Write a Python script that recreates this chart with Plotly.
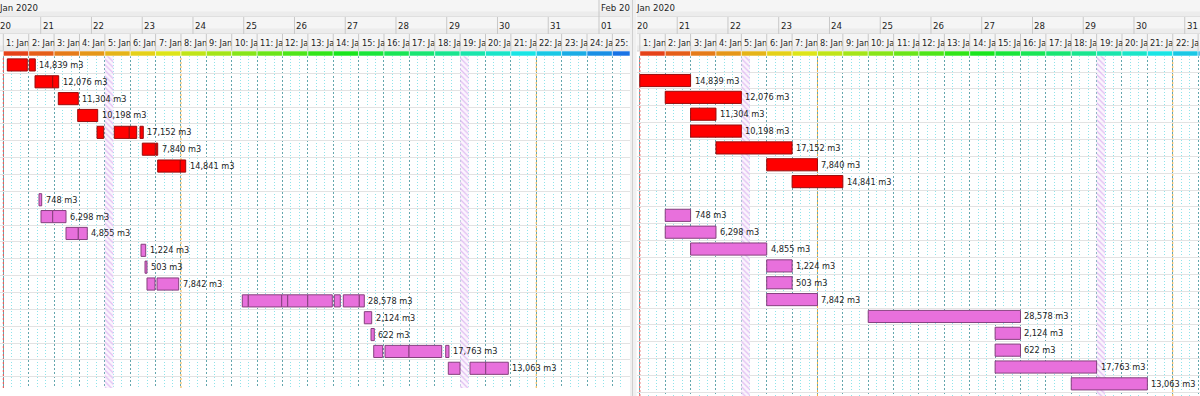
import colorsys
import plotly.graph_objects as go

# ------------------------------------------------------------------ data
volumes = [14839, 12076, 11304, 10198, 17152, 7840, 14841, None,
           748, 6298, 4855, 1224, 503, 7842, 28578, 2124, 622, 17763, 13063]
row_groups = ["red"] * 7 + [None] + ["pink"] * 11

# left panel: actual segments, hours counted from Jan 20 00:00
left_seg_row = [1, 1, 2, 2, 3, 4, 5, 5, 5, 5, 6, 6, 7, 7,
                9, 10, 10, 11, 11, 12, 13, 14, 14,
                15, 15, 15, 15, 15, 15, 15, 15, 16, 17, 18, 18, 18, 18, 19, 19, 19]
left_seg_start = [8.20, 18.61, 21.30, 29.67, 32.32, 41.49, 50.62, 58.80, 65.89, 70.95,
                  72.04, 78.52, 79.32, 90.01,
                  23.19, 24.14, 29.67, 35.96, 41.78, 71.43, 73.32, 74.26, 78.99,
                  119.33, 122.17, 137.96, 140.80, 150.26, 162.83, 167.09, 174.66,
                  177.02, 180.19, 181.47, 186.81, 198.16, 215.51, 216.74, 227.00, 234.43]
left_seg_end = [17.66, 21.44, 29.67, 32.51, 41.78, 50.95, 53.79, 65.89, 69.39, 72.51,
                78.19, 79.32, 90.01, 92.56,
                24.47, 29.67, 35.96, 41.78, 46.03, 73.65, 74.26, 78.05, 89.25,
                122.17, 137.96, 140.80, 150.26, 161.89, 165.67, 174.66, 177.02,
                180.52, 181.75, 185.72, 198.16, 213.62, 217.07, 222.27, 234.43, 245.12]

# right panel: planned shifts (first shift, last shift) per row
right_first_shift = [1, 2, 3, 3, 4, 6, 7, None, 2, 2, 3, 6, 6, 6, 10, 15, 15, 15, 18]
right_last_shift = [2, 4, 3, 4, 6, 7, 8, None, 2, 3, 5, 6, 6, 7, 15, 15, 15, 18, 20]

day_labels = ["20", "21", "22", "23", "24", "25", "26", "27", "28", "29", "30", "31", "01"]
month_labels = ["Jan 2020", "Feb 2020"]
month_start_day = [0, 12]
n_shifts = 25
shift_names = [f"{k}: Jan {20 + int((6.33 + 12 * (k - 1)) // 24)}" for k in range(1, n_shifts + 1)]

SHIFT0 = 6.33        # first shift start (hours)
SHIFT_LEN = 12
now_line = 6.33
week_lines = [90.33, 258.33]
closed_bands = [(54.33, 58.33), (222.33, 226.33)]

# ------------------------------------------------------------------ geometry
W, H = 1200, 396
P = 2.1147           # px per hour
H0 = 4.75            # hour at left edge of left panel
FONT = dict(family="DejaVu Sans", size=8.2, color="#1e1e1e")
HFONT = dict(family="DejaVu Sans", size=8.6, color="#1e1e1e")
RED, RED_LINE = "#ff0000", "#9a0c0c"
PINK, PINK_LINE = "#e870dc", "#86407e"


def xp(px):
    return px / W


def yp(py):
    return 1 - py / H


panels = [
    dict(x="x", y="y", xk="xaxis", yk="yaxis", px0=0, px1=630, h0=H0,
         yr=[20.17, 0.47], ybot=388),
    dict(x="x2", y="y2", xk="xaxis2", yk="yaxis2", px0=637, px1=1200,
         h0=H0 + (637 - 636.5) / P, yr=[19.72, -0.454], ybot=396),
]
for pn in panels:
    pn["h1"] = pn["h0"] + (pn["px1"] - pn["px0"]) / P

fig = go.Figure()
shapes = []
annotations = []

for pi, pn in enumerate(panels):
    xa, ya = pn["x"], pn["y"]
    h0, h1 = pn["h0"], pn["h1"]

    # closed-time hatched bands
    for b0, b1 in closed_bands:
        if b1 > h0 and b0 < h1:
            fig.add_trace(go.Bar(
                orientation="h", y=[10], x=[b1 - b0], base=[b0], width=[40],
                marker=dict(color="rgba(0,0,0,0)", line=dict(width=0),
                            pattern=dict(shape="\\", fgcolor="#e0bcf2", bgcolor="rgba(250,242,253,0.7)",
                                         size=4, solidity=0.3, fillmode="replace")),
                xaxis=xa, yaxis=ya, hoverinfo="skip", showlegend=False))

    # bars
    for grp, col, lcol in (("red", RED, RED_LINE), ("pink", PINK, PINK_LINE)):
        ys, bs, ws = [], [], []
        if pi == 0:
            for r, s, e in zip(left_seg_row, left_seg_start, left_seg_end):
                if row_groups[r - 1] == grp:
                    ys.append(r); bs.append(s); ws.append(e - s)
        else:
            for i, (fs, ls) in enumerate(zip(right_first_shift, right_last_shift)):
                if row_groups[i] == grp and fs is not None:
                    s = SHIFT0 + SHIFT_LEN * (fs - 1)
                    e = SHIFT0 + SHIFT_LEN * ls
                    ys.append(i + 1); bs.append(s); ws.append(e - s)
        fig.add_trace(go.Bar(orientation="h", y=ys, x=ws, base=bs, width=0.72,
                             marker=dict(color=col, line=dict(color=lcol, width=1)),
                             xaxis=xa, yaxis=ya, hoverinfo="skip", showlegend=False))

    # value labels
    for i, v in enumerate(volumes):
        if v is None:
            continue
        r = i + 1
        if pi == 0:
            end = max(e for rr, e in zip(left_seg_row, left_seg_end) if rr == r)
        else:
            end = SHIFT0 + SHIFT_LEN * right_last_shift[i]
        annotations.append(dict(x=end, y=r, xref=xa, yref=ya, text=f"{v:,} m3",
                                xanchor="left", yanchor="middle", xshift=2, showarrow=False,
                                font=FONT))

    # ---------------- header
    x0p, x1p = xp(pn["px0"]), xp(pn["px1"])
    for (ta, tb) in ((0, 17), (17, 34), (34, 51)):
        shapes.append(dict(type="rect", xref="paper", yref="paper", x0=x0p, x1=x1p,
                           y0=yp(tb), y1=yp(ta), fillcolor="#f5f5f5", line=dict(width=0),
                           layer="above"))
        shapes.append(dict(type="rect", xref="paper", yref="paper", x0=x0p, x1=x1p,
                           y0=yp(tb), y1=yp((ta + tb) / 2 + 3), fillcolor="#ececec",
                           line=dict(width=0), layer="above"))
        shapes.append(dict(type="line", xref="paper", yref="paper", x0=x0p, x1=x1p,
                           y0=yp(tb), y1=yp(tb), line=dict(color="#d2d2d2", width=1),
                           layer="above"))

    def vis(a, b):
        return max(a, h0), min(b, h1)

    # month row
    for lab, d in zip(month_labels, month_start_day):
        s, e = 24 * d, 24 * (month_start_day[1] if d == 0 else 20)
        a, b = vis(s, e)
        if b - a <= 0:
            continue
        if s > h0:
            shapes.append(dict(type="line", xref=xa, yref="paper", x0=s, x1=s, y0=yp(17), y1=yp(0),
                               line=dict(color="#c8c8c8", width=1), layer="above"))
        wpx = (b - a) * P - 2
        if wpx >= 4:
            annotations.append(dict(x=a, y=yp(8), xref=xa, yref="paper", text=lab, xanchor="left",
                                    yanchor="middle", align="left", width=wpx, showarrow=False,
                                    xshift=(1 if s > h0 else -2), font=HFONT, borderpad=0))
    # day row
    for d, lab in enumerate(day_labels):
        s, e = 24 * d, 24 * (d + 1)
        a, b = vis(s, e)
        if b - a <= 0:
            continue
        if s > h0:
            shapes.append(dict(type="line", xref=xa, yref="paper", x0=s, x1=s, y0=yp(34), y1=yp(17),
                               line=dict(color="#c8c8c8", width=1), layer="above"))
        wpx = (b - a) * P - 2
        if wpx >= 4:
            annotations.append(dict(x=a, y=yp(25.5), xref=xa, yref="paper", text=lab, xanchor="left",
                                    yanchor="middle", align="left", width=wpx, showarrow=False,
                                    xshift=(1 if s > h0 else -1), font=HFONT, borderpad=0))
    # shift row + colour strip
    for k in range(1, n_shifts + 1):
        s = SHIFT0 + SHIFT_LEN * (k - 1)
        e = s + SHIFT_LEN
        a, b = vis(s, e)
        if b - a <= 0:
            continue
        shapes.append(dict(type="line", xref=xa, yref="paper", x0=s, x1=s, y0=yp(51), y1=yp(34),
                           line=dict(color="#c8c8c8", width=1), layer="above"))
        hue = (12 + (k - 1) * 8.4) / 360
        r, g, bb = colorsys.hls_to_rgb(hue, 0.5, 0.8)
        shapes.append(dict(type="rect", xref=xa, yref="paper", x0=a, x1=b, y0=yp(56), y1=yp(51),
                           fillcolor=f"rgb({int(r*255)},{int(g*255)},{int(bb*255)})",
                           line=dict(color="rgba(255,255,255,0.55)", width=1), layer="above"))
        wpx = (b - a) * P - 3
        if wpx >= 4:
            annotations.append(dict(x=a, y=yp(43), xref=xa, yref="paper", text=shift_names[k - 1],
                                    xanchor="left", yanchor="middle", align="left", width=wpx,
                                    showarrow=False, xshift=2, font=FONT, borderpad=0))

    # plot-area marker lines
    ytop, ybot = yp(56), yp(pn["ybot"])
    if h0 <= now_line <= h1:
        shapes.append(dict(type="line", xref=xa, yref="paper", x0=now_line, x1=now_line,
                           y0=ybot, y1=ytop, line=dict(color="#e04040", width=1, dash="2px,2px"),
                           layer="between"))
    for wl in week_lines:
        if h0 <= wl <= h1:
            shapes.append(dict(type="line", xref=xa, yref="paper", x0=wl, x1=wl,
                               y0=ybot, y1=ytop, line=dict(color="#f2b040", width=1, dash="2px,2px"),
                               layer="between"))

    fig.layout[pn["xk"]] = dict(
        domain=[x0p, x1p], range=[h0, h1], showticklabels=False, ticks="", showline=False,
        zeroline=False, tick0=SHIFT0, dtick=SHIFT_LEN, showgrid=True, gridcolor="#63a6ad",
        griddash="2px,2px", gridwidth=1, anchor=ya, fixedrange=True,
        minor=dict(tick0=SHIFT0, dtick=4, showgrid=True, gridcolor="#8fe4ea",
                   griddash="1px,2px", gridwidth=1))
    fig.layout[pn["yk"]] = dict(
        domain=[ybot, ytop], range=pn["yr"], showticklabels=False, ticks="", zeroline=False,
        tick0=0.5, dtick=1, showgrid=True, gridcolor="#e3e3e3", gridwidth=1, anchor=xa,
        fixedrange=True)

# separator between panels
shapes.append(dict(type="rect", xref="paper", yref="paper", x0=xp(630), x1=xp(636.5), y0=0, y1=1,
                   fillcolor="#f0f0f0", line=dict(width=0), layer="above"))
shapes.append(dict(type="line", xref="paper", yref="paper", x0=xp(632.5), x1=xp(632.5), y0=0, y1=1,
                   line=dict(color="#cfcfcf", width=1), layer="above"))

fig.update_layout(width=W, height=H, margin=dict(l=0, r=0, t=0, b=0),
                  paper_bgcolor="white", plot_bgcolor="white", barmode="overlay",
                  showlegend=False, shapes=shapes, annotations=annotations,
                  font=FONT)

fig.write_html("out.html", config={"displayModeBar": False},
               post_script="document.body.style.margin='0px';document.body.style.overflow='hidden';")
